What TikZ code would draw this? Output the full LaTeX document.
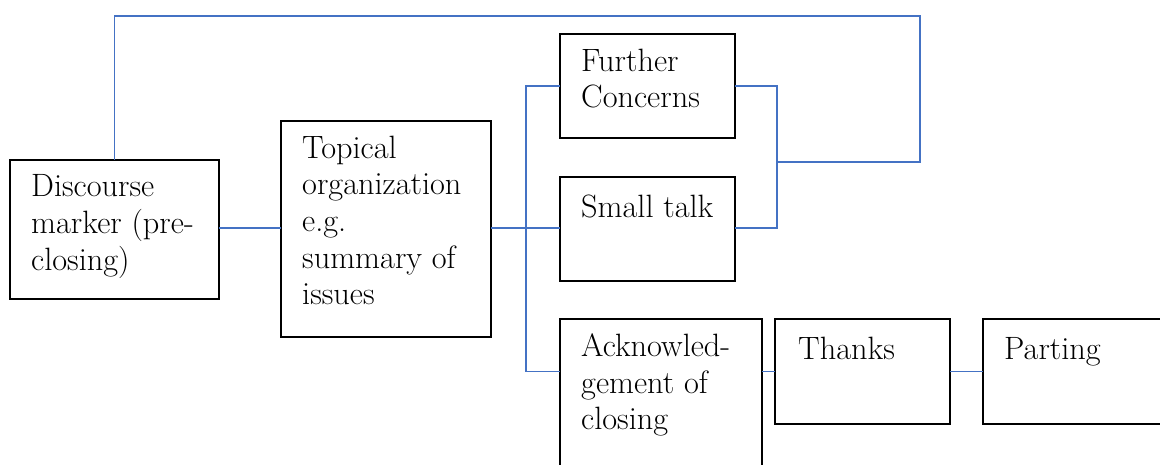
\documentclass[tikz,border=0pt]{standalone}
\usepackage{fontspec}
\usetikzlibrary{calc}
\definecolor{linkblue}{RGB}{68,114,196}
\tikzset{
  stepbox/.style={draw=black, line width=1.7pt, rectangle, inner sep=0pt,
                  outer sep=0pt, anchor=north west},
  lbl/.style={anchor=north west, inner sep=0pt, align=left,
              font=\fontsize{32.3}{36.7}\selectfont,
              execute at begin node={\rule{0pt}{26pt}}},
  link/.style={draw=linkblue, line width=1.3pt}
}
\begin{document}
\begin{tikzpicture}[x=1pt, y=-1pt]
  \useasboundingbox (0,0) rectangle (1160,464);
  \clip (0,0) rectangle (1160,464);

  % boxes
  \node[stepbox, minimum width=209pt, minimum height=139pt] (dm) at (10,160) {};
  \node[stepbox, minimum width=210pt, minimum height=216pt] (tp) at (281,121) {};
  \node[stepbox, minimum width=175pt, minimum height=104pt] (fc) at (560,34) {};
  \node[stepbox, minimum width=175pt, minimum height=104pt] (st) at (560,177) {};
  \node[stepbox, minimum width=202pt, minimum height=170pt] (ack) at (560,319) {};
  \node[stepbox, minimum width=175pt, minimum height=105pt] (th) at (775,319) {};
  \node[stepbox, minimum width=200pt, minimum height=105pt] (pt) at (983,319) {};

  % box texts
  \node[lbl] (dmt) at ($(dm.north west)+(21,14.5)$) {Discourse\\marker (pre-\\closing)};
  \node[lbl] (tpt) at ($(tp.north west)+(21,14.5)$) {Topical\\organization\\e.g.\\summary of\\issues};
  \node[lbl] (fct) at ($(fc.north west)+(21,14.5)$) {Further\\Concerns};
  \node[lbl] (stt) at ($(st.north west)+(21,14.5)$) {Small talk};
  \node[lbl] (ackt) at ($(ack.north west)+(21,14.5)$) {Acknowled-\\gement of\\closing};
  \node[lbl] (tht) at ($(th.north west)+(23,14.5)$) {Thanks};
  \node[lbl] (ptt) at ($(pt.north west)+(21,14.5)$) {Parting};

  % routing coordinates
  \coordinate (row) at (0,228);
  \coordinate (bx) at (526,0);
  \coordinate (rx) at (777,0);
  \coordinate (loopR) at (920,162);
  \coordinate (topY) at (0,16);

  % connectors
  \draw[link] (dm.east |- row) -- (tp.west |- row);
  \draw[link] (tp.east |- row) -- (st.west |- row);
  \draw[link] (fc.west) -- (fc.west -| bx) -- (th.west -| bx) -- (ack.west |- th.west);
  \draw[link] (fc.east) -- (fc.east -| rx) -- (rx |- row) -- (st.east |- row);
  \draw[link] (rx |- loopR) -- (loopR) -- (loopR |- topY) -- (dm.north |- topY) -- (dm.north);
  \draw[link] (ack.east |- th.west) -- (th.west);
  \draw[link] (th.east) -- (pt.west);
\end{tikzpicture}
\end{document}
